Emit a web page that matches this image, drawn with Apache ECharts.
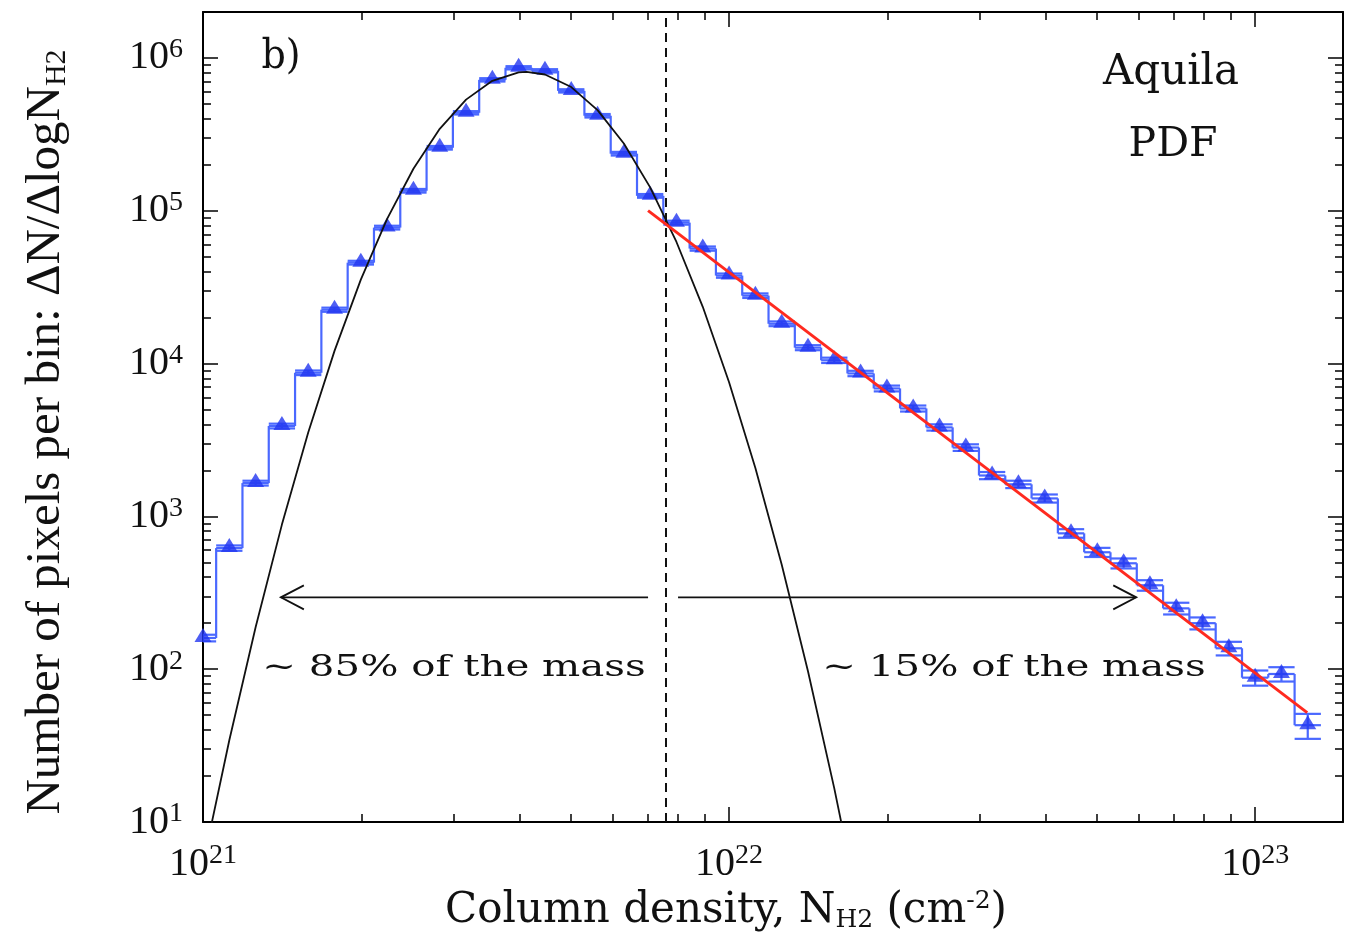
<!DOCTYPE html>
<html>
<head>
<meta charset="utf-8">
<script src="https://cdn.jsdelivr.net/npm/echarts@6/dist/echarts.min.js"></script>
<style>
html,body{margin:0;padding:0;background:#ffffff;}
#chart{width:1345px;height:933px;}
</style>
</head>
<body>
<div id="chart"></div>
<script>
// ---------------- data ----------------
// bin centres, log10 of column density N_H2 (cm^-2)
const binLogN = [21.00, 21.05, 21.10, 21.15, 21.20, 21.25, 21.30, 21.35, 21.40, 21.45,
                 21.50, 21.55, 21.60, 21.65, 21.70, 21.75, 21.80, 21.85, 21.90, 21.95,
                 22.00, 22.05, 22.10, 22.15, 22.20, 22.25, 22.30, 22.35, 22.40, 22.45,
                 22.50, 22.55, 22.60, 22.65, 22.70, 22.75, 22.80, 22.85, 22.90, 22.95,
                 23.00, 23.05, 23.10];
// number of pixels per bin  dN/dlogN
const binCounts = [160, 620, 1650, 3900, 8700, 22500, 45700, 77500, 135000, 258000,
                   437000, 718000, 861000, 823000, 608000, 418000, 236000, 125000, 83500, 56500,
                   37600, 27800, 18200, 12700, 10500, 8610, 6870, 5080, 3820, 2820,
                   1850, 1620, 1310, 774, 582, 493, 354, 250, 200, 137,
                   88, 93, 43];
// error bar half-sizes
const binErrors = [8, 25, 60, 140, 300, 700, 1300, 2200, 3700, 7000,
                   11000, 18000, 21000, 20000, 15000, 11000, 6500, 3500, 2500, 1800,
                   1200, 950, 650, 480, 420, 350, 300, 230, 180, 140,
                   100, 90, 80, 50, 40, 37, 28, 22, 18, 14,
                   10, 10, 8];
// lognormal fit (black curve)
const fitLogN = [21.00, 21.05, 21.10, 21.15, 21.20, 21.25, 21.30, 21.35, 21.40, 21.45,
                 21.50, 21.55, 21.60, 21.615, 21.65, 21.70, 21.75, 21.80, 21.85, 21.90,
                 21.95, 22.00, 22.05, 22.10, 22.15, 22.20, 22.25];
const fitCounts = [5.3, 34.3, 188, 883, 3540, 12100, 35400, 88300, 188000, 343000,
                   533000, 708000, 804000, 809000, 778000, 644000, 455000, 275000, 142000, 62400,
                   23500, 7540, 2070, 484, 97, 16.6, 2.4];
// power-law fit (red line)
const powerLawLogN = [21.846, 23.099];
const powerLawCounts = [100000, 52];
// vertical dashed threshold
const thresholdLogN = 21.875;
// arrows (start, tip) in log10 N, at a common height
const arrowCount = 295;
const arrowsLogN = [[21.846, 21.148], [21.903, 22.774]];
// axis ticks
const xTickExponents = [21, 22, 23];
const yTickExponents = [1, 2, 3, 4, 5, 6];
const minorMultipliers = [2, 3, 4, 5, 6, 7, 8, 9];
// texts
const panelLabel = 'b)';
const regionLabels = ['Aquila', 'PDF'];
const massLabels = ['~ 85% of the mass', '~ 15% of the mass'];

// ---------------- layout / style ----------------
const X_MIN = 21, X_MAX = 23.167, Y_MIN = 1, Y_MAX = 6.3;
const HALF_BIN = 0.025;
const BLUE_MARK = '#2236f0';
const BLUE_LINE = '#4a68ff';
const TXT = '#111111';
const SERIF = '"DejaVu Serif", serif';
const TIMES = '"Liberation Serif", "Times New Roman", Times, serif';
const L = Math.log10;

const xMinor = [], yMinor = [];
xTickExponents.forEach(e => minorMultipliers.forEach(m => xMinor.push(e + L(m))));
yTickExponents.forEach(e => minorMultipliers.forEach(m => yMinor.push(e + L(m))));

const tickLabelRich = {
  b: {fontFamily: TIMES, fontSize: 40, lineHeight: 44, color: TXT},
  s: {fontFamily: TIMES, fontSize: 28, lineHeight: 12, verticalAlign: 'top', color: TXT}
};
const tickFmt = v => '{b|10}{s|' + Math.round(v) + '}';

function makeX(pos, major, labels) {
  return {
    type: 'value', position: pos, min: X_MIN, max: X_MAX, gridIndex: 0,
    axisLine: {show: major, onZero: false, lineStyle: {color: '#000', width: 2}},
    axisTick: {show: true, inside: true, length: major ? 15 : 8,
      lineStyle: {color: '#000', width: 1.5}, customValues: major ? xTickExponents : xMinor},
    axisLabel: labels ? {show: true, margin: 20, formatter: tickFmt, rich: tickLabelRich,
      customValues: xTickExponents} : {show: false},
    splitLine: {show: false}, axisPointer: {show: false}
  };
}
function makeY(pos, major, labels) {
  return {
    type: 'value', position: pos, min: Y_MIN, max: Y_MAX, gridIndex: 0,
    axisLine: {show: major, onZero: false, lineStyle: {color: '#000', width: 2}},
    axisTick: {show: true, inside: true, length: major ? 15 : 8,
      lineStyle: {color: '#000', width: 1.5}, customValues: major ? yTickExponents : yMinor},
    axisLabel: labels ? {show: true, margin: 20, formatter: tickFmt, rich: tickLabelRich,
      customValues: yTickExponents} : {show: false},
    splitLine: {show: false}, axisPointer: {show: false}
  };
}

const xAxes = [makeX('bottom', true, true), makeX('bottom', false, false),
               makeX('top', true, false), makeX('top', false, false)];
xAxes[0].name = '{a|Column density, N}{s|H2}{a| (cm}{p|-2}{a|)}';
xAxes[0].nameLocation = 'middle';
xAxes[0].nameGap = 66;
xAxes[0].nameTextStyle = {padding: [0, 94, 0, 0], rich: {
  a: {fontFamily: SERIF, fontSize: 42, lineHeight: 44, color: TXT},
  s: {fontFamily: SERIF, fontSize: 25, lineHeight: 16, verticalAlign: 'bottom', color: TXT},
  p: {fontFamily: SERIF, fontSize: 25, lineHeight: 4, verticalAlign: 'top', color: TXT}
}};
const yAxes = [makeY('left', true, true), makeY('left', false, false),
               makeY('right', true, false), makeY('right', false, false)];
yAxes[0].name = '{a|Number of pixels per bin: \u0394N/\u0394logN}{s|H2}';
yAxes[0].nameLocation = 'middle';
yAxes[0].nameRotate = 90;
yAxes[0].nameGap = 131;
yAxes[0].nameTextStyle = {fontFamily: TIMES, padding: [0, 30, 0, 0], rich: {
  a: {fontFamily: TIMES, fontSize: 49, lineHeight: 52, color: TXT},
  s: {fontFamily: TIMES, fontSize: 30, lineHeight: 20, verticalAlign: 'bottom', color: TXT}
}};

// ---------------- series data ----------------
const histData = binLogN.map((x, i) => [x, L(binCounts[i]), L(binCounts[i > 0 ? i - 1 : 0])]);
const errData = binLogN.map((x, i) => [x, L(binCounts[i] - binErrors[i]), L(binCounts[i] + binErrors[i])]);
const pointData = binLogN.map((x, i) => [x, L(binCounts[i])]);
const fitData = fitLogN.map((x, i) => [x, L(fitCounts[i])]);
const plData = powerLawLogN.map((x, i) => [x, L(powerLawCounts[i])]);
const arrowData = arrowsLogN.map(a => [a[0], a[1], L(arrowCount)]);

const chart = echarts.init(document.getElementById('chart'), null, {renderer: 'canvas'});
const textStyle = (fs, txt) => ({text: txt, fontFamily: SERIF, fontSize: fs, fill: TXT,
  textAlign: 'center', textVerticalAlign: 'middle', align: 'center', verticalAlign: 'middle'});
chart.setOption({
  animation: false,
  backgroundColor: '#ffffff',
  grid: {left: 203, right: 2, top: 12, bottom: 111, containLabel: false, outerBoundsMode: 'none'},
  xAxis: xAxes,
  yAxis: yAxes,
  series: [
    {
      type: 'custom', name: 'histogram', clip: true, z: 2,
      encode: {x: 0, y: [1, 2]},
      data: histData,
      renderItem: (params, api) => {
        const x = api.value(0), y = api.value(1), yp = api.value(2);
        const a = api.coord([x - HALF_BIN, y]), b = api.coord([x + HALF_BIN, y]);
        const c = api.coord([x - HALF_BIN, yp]);
        const st = {stroke: BLUE_LINE, lineWidth: 2.2};
        return {type: 'group', children: [
          {type: 'line', shape: {x1: a[0], y1: a[1], x2: b[0], y2: b[1]}, style: st},
          {type: 'line', shape: {x1: c[0], y1: c[1], x2: a[0], y2: a[1]}, style: st}
        ]};
      }
    },
    {
      type: 'custom', name: 'errors', clip: true, z: 3,
      encode: {x: 0, y: [1, 2]},
      data: errData,
      renderItem: (params, api) => {
        const x = api.value(0), lo = api.value(1), hi = api.value(2);
        const p1 = api.coord([x, lo]), p2 = api.coord([x, hi]);
        const l1 = api.coord([x - HALF_BIN, lo]), r1 = api.coord([x + HALF_BIN, lo]);
        const l2 = api.coord([x - HALF_BIN, hi]), r2 = api.coord([x + HALF_BIN, hi]);
        const st = {stroke: BLUE_LINE, lineWidth: 2.2};
        return {type: 'group', children: [
          {type: 'line', shape: {x1: p1[0], y1: p1[1], x2: p2[0], y2: p2[1]}, style: st},
          {type: 'line', shape: {x1: l1[0], y1: l1[1], x2: r1[0], y2: r1[1]}, style: st},
          {type: 'line', shape: {x1: l2[0], y1: l2[1], x2: r2[0], y2: r2[1]}, style: st}
        ]};
      }
    },
    {
      type: 'scatter', name: 'data', z: 4, clip: true,
      symbol: 'triangle', symbolSize: [17, 14], symbolOffset: [0, -3],
      itemStyle: {color: BLUE_MARK},
      data: pointData
    },
    {
      type: 'line', name: 'lognormal fit', z: 5, clip: true,
      showSymbol: false, symbol: 'none', smooth: false,
      lineStyle: {color: '#111', width: 1.8},
      data: fitData,
      markLine: {
        silent: true, symbol: ['none', 'none'], animation: false,
        label: {show: false},
        lineStyle: {color: '#111', width: 2, type: [9, 6]},
        data: [{xAxis: thresholdLogN}]
      }
    },
    {
      type: 'line', name: 'power law', z: 6, clip: true,
      showSymbol: false, symbol: 'none',
      lineStyle: {color: '#ff2a1f', width: 3},
      data: plData
    },
    {
      type: 'custom', name: 'arrows', z: 6, clip: false,
      encode: {x: [0, 1], y: 2},
      data: arrowData,
      renderItem: (params, api) => {
        const p0 = api.coord([api.value(0), api.value(2)]);
        const p1 = api.coord([api.value(1), api.value(2)]);
        const d = p1[0] > p0[0] ? 1 : -1;
        const st = {stroke: '#111', lineWidth: 1.8, fill: 'none'};
        return {type: 'group', children: [
          {type: 'line', shape: {x1: p0[0], y1: p0[1], x2: p1[0], y2: p1[1]}, style: st},
          {type: 'polyline', shape: {points: [[p1[0] - d * 23, p1[1] - 12], [p1[0], p1[1]], [p1[0] - d * 23, p1[1] + 12]]}, style: st}
        ]};
      }
    }
  ],
  graphic: [
    {type: 'text', x: 281, y: 57, z: 10, silent: true, scaleY: 1.1, style: textStyle(38, panelLabel)},
    {type: 'text', x: 1171, y: 73, z: 10, silent: true, style: textStyle(42, regionLabels[0])},
    {type: 'text', x: 1173, y: 145, z: 10, silent: true, style: textStyle(41, regionLabels[1])},
    {type: 'text', x: 454, y: 668, z: 10, silent: true, scaleX: 1.39, style: textStyle(29, massLabels[0])},
    {type: 'text', x: 1014, y: 668, z: 10, silent: true, scaleX: 1.39, style: textStyle(29, massLabels[1])}
  ]
});
</script>
</body>
</html>
